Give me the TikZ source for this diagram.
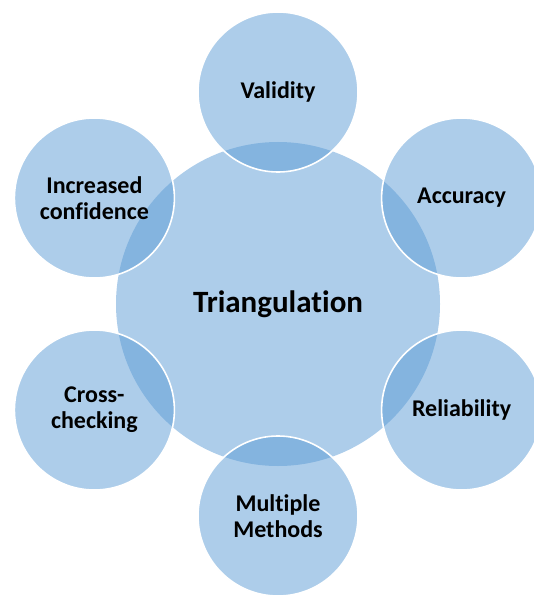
\documentclass[tikz,border=0pt]{standalone}
\usepackage{fontspec}
\setmainfont{Carlito}[Ligatures={NoCommon,NoRare,NoContextual}]
\definecolor{accent}{HTML}{5B9BD5}
\begin{document}
\begin{tikzpicture}[x=1pt,y=-1pt,
  hub/.style={circle, minimum size=324pt, inner sep=0pt, fill=accent,
    fill opacity=0.5, text opacity=1, text=black,
    font=\bfseries\fontsize{31}{36}\selectfont},
  petal/.style={circle, minimum size=160pt, inner sep=0pt, fill=accent,
    fill opacity=0.5, text opacity=1, draw=white, draw opacity=1,
    line width=1.6pt, text=black, align=center,
    font=\bfseries\fontsize{24}{26}\selectfont}]
\useasboundingbox (0,0) rectangle (533,596);
\node[hub] (hub) at (278,304) {Triangulation};
\node[petal] (validity) at (278,92) {Validity};
\node[petal] (accuracy) at (461.6,198) {Accuracy};
\node[petal] (reliability) at (461.6,410) {Reliability};
\node[petal] (methods) at (278,516) {Multiple\\Methods};
\node[petal] (cross) at (94.4,410) {Cross-\\checking};
\node[petal] (confidence) at (94.4,198) {Increased\\confidence};
\end{tikzpicture}
\end{document}
